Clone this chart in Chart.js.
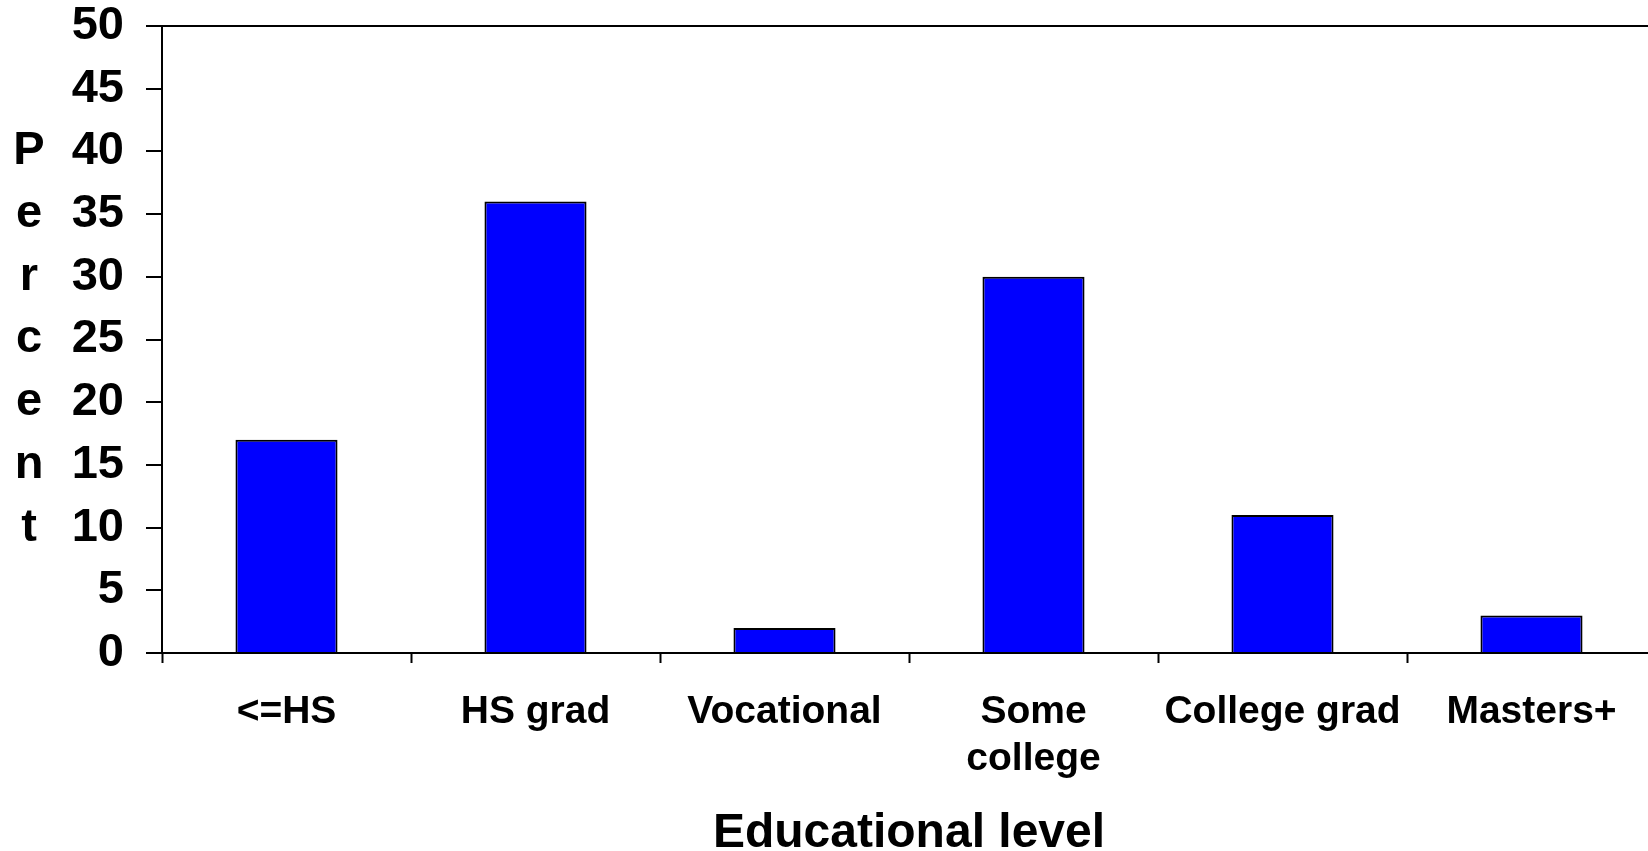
<!DOCTYPE html>
<html>
<head>
<meta charset="utf-8">
<script src="https://cdn.jsdelivr.net/npm/chart.js@4/dist/chart.umd.min.js"></script>
<style>
    html, body { margin: 0; padding: 0; background: #fff; overflow: hidden; }
    #wrap { position: absolute; left: 0; top: 0; width: 1660px; height: 851px; }
</style>
</head>
<body>
<div id="wrap"><canvas id="eduChart"></canvas></div>
<script>
const categories = ['<=HS', 'HS grad', 'Vocational', ['Some', 'college'], 'College grad', 'Masters+'];
const percents = [17, 36, 2, 30, 11, 3];
const yTicks = [0, 5, 10, 15, 20, 25, 30, 35, 40, 45, 50];
const xTitle = 'Educational level';
const yTitle = 'Percent';

const FONT = "'Liberation Sans', Arial, sans-serif";

// vertical "Percent", one letter per tick row (40 down to 10)
const stackedTitle = {
    id: 'stackedTitle',
    afterDraw(chart) {
        const ctx = chart.ctx;
        const y = chart.scales.y;
        ctx.save();
        ctx.font = 'bold 47px ' + FONT;
        ctx.fillStyle = '#000';
        ctx.textAlign = 'center';
        ctx.textBaseline = 'middle';
        yTitle.split('').forEach((ch, i) => {
            ctx.fillText(ch, 29, y.getPixelForValue(40 - 5 * i));
        });
        ctx.restore();
    }
};

const eduCtx = document.getElementById('eduChart').getContext('2d');
const eduChart = new Chart(eduCtx, {
    type: 'bar',
    data: {
        labels: categories,
        datasets: [{
            data: percents,
            backgroundColor: '#0000FF',
            borderColor: '#000',
            borderWidth: 2,
            barPercentage: 0.41,
            categoryPercentage: 1.0
        }]
    },
    options: {
        responsive: true,
        maintainAspectRatio: false,
        animation: false,
        layout: { padding: { top: 26, right: 4, left: 0, bottom: 0 } },
        plugins: {
            legend: { display: false },
            tooltip: { enabled: false }
        },
        scales: {
            x: {
                afterFit: s => { s.height = 198; },
                grid: {
                    offset: true,
                    drawOnChartArea: false,
                    tickLength: 10,
                    tickColor: '#000',
                    tickWidth: 2
                },
                border: { color: '#000', width: 2 },
                ticks: {
                    color: '#000',
                    padding: 26,
                    maxRotation: 0,
                    autoSkip: false,
                    font: { family: FONT, size: 39, weight: 'bold', lineHeight: 1.2 }
                },
                title: {
                    display: true,
                    text: xTitle,
                    color: '#000',
                    padding: { top: 0, bottom: 0 },
                    font: { family: FONT, size: 48, weight: 'bold', lineHeight: 0.7 }
                }
            },
            y: {
                min: 0,
                max: 50,
                afterFit: s => { s.width = 162; },
                afterBuildTicks: s => { s.ticks = yTicks.map(v => ({ value: v })); },
                grid: {
                    color: c => (c.tick && c.tick.value === 50) ? '#000' : 'transparent',
                    lineWidth: 2,
                    tickLength: 16,
                    tickColor: '#000',
                    tickWidth: 2
                },
                border: { color: '#000', width: 2 },
                ticks: {
                    color: '#000',
                    padding: 22,
                    font: { family: FONT, size: 47, weight: 'bold', lineHeight: 0.1 }
                }
            }
        }
    },
    plugins: [stackedTitle]
});
</script>
</body>
</html>
